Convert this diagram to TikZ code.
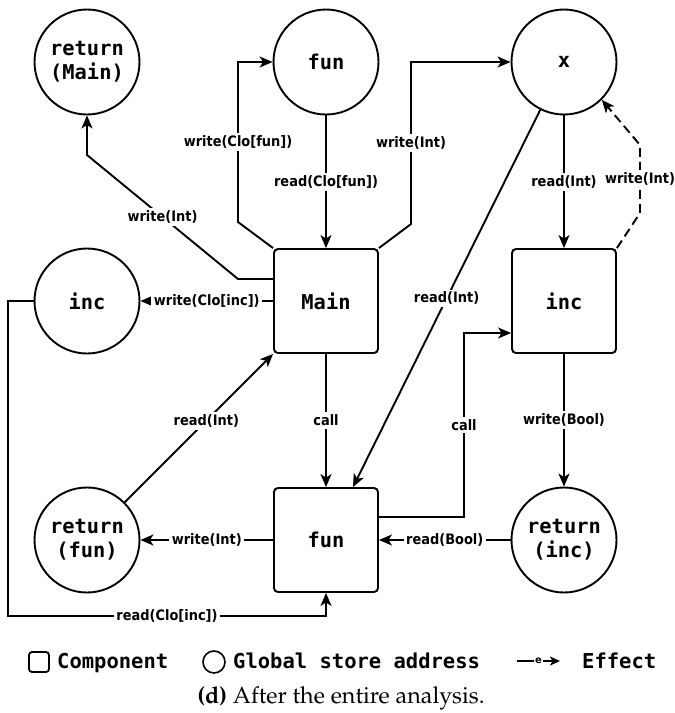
\documentclass[tikz,border=0pt]{standalone}
\usepackage[T1]{fontenc}
\usepackage{fontspec}
\usetikzlibrary{arrows.meta,calc}
\newfontfamily\dvmono{DejaVu Sans Mono}
\newfontfamily\dvsans{DejaVu Sans}
\newfontfamily\dvsansnarrow{DejaVu Sans}[FakeStretch=0.9]
\newcommand\nodetext{\dvmono\bfseries\fontsize{20.4pt}{24pt}\selectfont}
\newcommand\edgetext{\dvsansnarrow\bfseries\fontsize{14.4pt}{16pt}\selectfont}
\newcommand\legendtext{\dvmono\bfseries\fontsize{20.5pt}{24pt}\selectfont}
\newcommand\tinytext{\dvsans\bfseries\fontsize{10pt}{12pt}\selectfont}
\newcommand\captiontext{\fontencoding{T1}\fontfamily{ppl}\fontsize{23.3pt}{28pt}\selectfont}

\begin{document}
\begin{tikzpicture}[x=1pt, y=-1pt,
  comp/.style={draw, rounded corners=4pt, minimum width=104pt, minimum height=104pt,
    line width=1.9pt, font=\nodetext, inner sep=0pt},
  addr/.style={draw, circle, minimum size=105pt, line width=1.9pt, font=\nodetext,
    align=center, inner sep=0pt},
  eff/.style={line width=1.9pt, -{Stealth[length=13pt, width=11pt, inset=3.5pt]}},
  lbl/.style={fill=white, font=\edgetext, inner sep=2.5pt},
  legtext/.style={anchor=base west, inner sep=0pt, font=\legendtext},
]
\useasboundingbox (0,0) rectangle (675,713);

% global store addresses and components
\node[addr] (RM) at (87,62) {return\\(Main)};
\node[addr] (FC) at (326,62) {fun};
\node[addr] (XC) at (564,62) {x};
\node[addr] (IC) at (87,301) {inc};
\node[comp] (Main) at (326,301) {Main};
\node[comp] (IB) at (564,301) {inc};
\node[addr] (RF) at (87,540) {return\\(fun)};
\node[comp] (FB) at (326,540) {fun};
\node[addr] (RI) at (564,540) {return\\(inc)};

% effects
\draw[eff] ([yshift=22pt]Main.west) -- (238,279)
  -- node[lbl]{write(Int)} (RM.south |- 0,155) -- (RM.south);
\draw[eff] (Main.north west) -- (238,222)
  -- node[lbl]{write(Clo[fun])} (FC.west -| 238,0) -- (FC.west);
\draw[eff] (FC) -- node[lbl]{read(Clo[fun])} (Main);
\draw[eff] (Main.north east) -- (411,224)
  -- node[lbl]{write(Int)} (XC.west -| 411,0) -- (XC.west);
\draw[eff] (XC) -- node[lbl]{read(Int)} (IB);
\draw[eff, dash pattern=on 9pt off 5pt] (IB.north east) -- (640,213)
  -- node[lbl]{write(Int)} (640,145) -- (XC.south east);
\draw[eff] (XC) -- node[lbl]{read(Int)} ([xshift=27pt]FB.north);
\draw[eff] (Main) -- node[lbl]{write(Clo[inc])} (IC);
\draw[eff] (RF) -- node[lbl, pos=0.55]{read(Int)} (Main.south west);
\draw[eff] (Main) -- node[lbl]{call} (FB);
\draw[eff] ([yshift=23pt]FB.east) -- (464,517)
  -- node[lbl]{call} (464,333) -- ([yshift=-32pt]IB.west);
\draw[eff] (IB) -- node[lbl]{write(Bool)} (RI);
\draw[eff] (FB) -- node[lbl]{write(Int)} (RF);
\draw[eff] (RI) -- node[lbl]{read(Bool)} (FB);
\draw[eff] (IC.west) -- (8,301) -- (8,616)
  -- node[lbl]{read(Clo[inc])} (FB.south |- 0,616) -- (FB.south);

% legend
\node[draw, rounded corners=3pt, line width=1.8pt, minimum size=20pt, inner sep=0pt]
  (legcomp) at (39,662) {};
\node[legtext] (legcompt) at (57,668) {Component};
\node[draw, circle, line width=1.6pt, minimum size=22pt, inner sep=0pt]
  (legaddr) at (214,662) {};
\node[legtext] (legaddrt) at (233,668) {Global store address};
\coordinate (legfrom) at (517,661);
\coordinate (legto) at (560,661);
\draw[line width=1.6pt, -{Stealth[length=10pt, width=9pt, inset=2.5pt]}] (legfrom)
  -- node[fill=white, inner sep=1pt, font=\tinytext]{e} (legto);
\node[legtext] (legefft) at (582,668) {Effect};

% caption
\node[anchor=base, inner sep=0pt, font=\captiontext] (caption) at (341,703)
  {\textbf{(d)} After the entire analysis.};
\end{tikzpicture}
\end{document}
